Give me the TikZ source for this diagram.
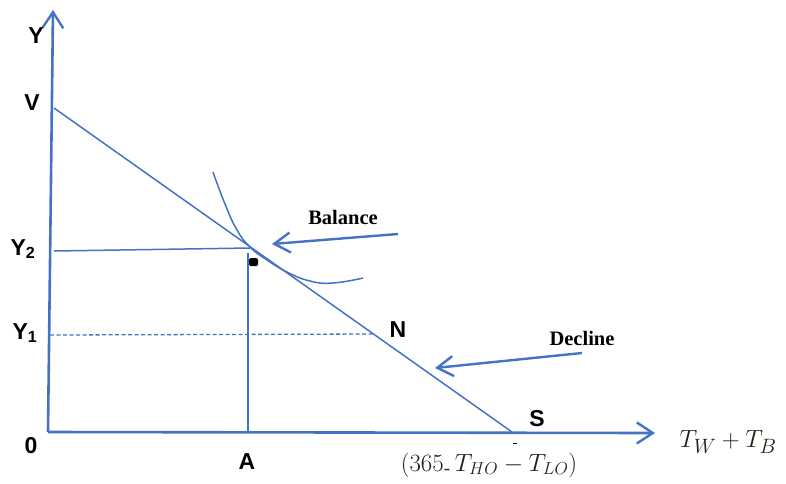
\documentclass[tikz,border=0pt]{standalone}
\usepackage{amsmath}
\usepackage{fontspec}
\setmainfont{Liberation Serif}
\setsansfont{Liberation Sans}
\usetikzlibrary{arrows.meta}
\definecolor{lblue}{RGB}{68,114,196}
\definecolor{mathink}{RGB}{40,30,20}
\begin{document}
\begin{tikzpicture}[x=1pt,y=-1pt,
  ln/.style={draw=lblue, line width=1.5pt},
  axis/.style={draw=lblue, line width=2.6pt, -{Straight Barb[length=16pt,width=21pt,line width=2.4pt]}},
  pointer/.style={draw=lblue, line width=2.4pt, -{Straight Barb[length=16pt,width=20pt,line width=2.4pt]}},
  lbl/.style={font=\sffamily\bfseries\fontsize{23}{27}\selectfont, text=black, inner sep=0pt},
  word/.style={font=\rmfamily\bfseries\fontsize{20.5}{24}\selectfont, text=black, inner sep=0pt},
  mathlbl/.style={text=mathink, inner sep=0pt}
]
\useasboundingbox (0,0) rectangle (786,483);
% points
\coordinate (O) at (48,432);
\coordinate (Ytop) at (53,10);
\coordinate (Xend) at (655,433);
\coordinate (V) at (54,108);
\coordinate (S) at (512,432);
\coordinate (Y2p) at (54,251);
\coordinate (E) at (250,248);
\coordinate (Eb) at (248,253);
\coordinate (Ap) at (248,432);
\coordinate (Y1p) at (50,335);
\coordinate (Np) at (373,334);
\coordinate (Btail) at (398,234);
\coordinate (Btip) at (272,244);
\coordinate (Dtail) at (582,353);
\coordinate (Dtip) at (435,368);
\coordinate (Tk1) at (513,443);
\coordinate (Tk2) at (517,443);
% axes
\draw[axis] (O) -- (Ytop);
\draw[axis] (O) -- (Xend);
% budget line
\draw[ln] (V) -- (S);
% guide lines
\draw[ln] (Y2p) -- (E);
\draw[ln] (Eb) -- (Ap);
\draw[ln, line width=1.3pt, dash pattern=on 4pt off 2.5pt] (Y1p) -- (Np);
% indifference curve
\draw[ln] plot[smooth, tension=0.8] coordinates {(213,172) (225,204) (237,230) (250,247) (267,260) (287,272) (310,281) (333,283) (363,278)};
% equilibrium marker
\fill[black, rounded corners=1.5pt] (249,258) rectangle (258,266);
% pointers
\draw[pointer] (Btail) -- (Btip);
\draw[pointer] (Dtail) -- (Dtip);
% tick under S
\draw[black, line width=1pt] (Tk1) -- (Tk2);
% labels
\node[lbl] (lY) at (36,36) {Y};
\node[lbl] (lV) at (32,103) {V};
\node[lbl] (lY2) at (23,249) {Y\textsubscript{2}};
\node[lbl] (lY1) at (25,333) {Y\textsubscript{1}};
\node[lbl] (l0) at (31,446) {0};
\node[lbl] (lA) at (247,462) {A};
\node[lbl] (lN) at (398,330) {N};
\node[lbl] (lS) at (537,419) {S};
\node[word] (lBal) at (343,217) {Balance};
\node[word] (lDec) at (582,338) {Decline};
\node[mathlbl, font=\fontsize{27}{30}\selectfont] (lX) at (489,465) {$(365{}_{\text{-}}\,T_{HO}-T_{LO})$};
\node[mathlbl, font=\fontsize{28}{31}\selectfont] (lXa) at (728,442) {$T_W+T_B$};
\end{tikzpicture}
\end{document}
